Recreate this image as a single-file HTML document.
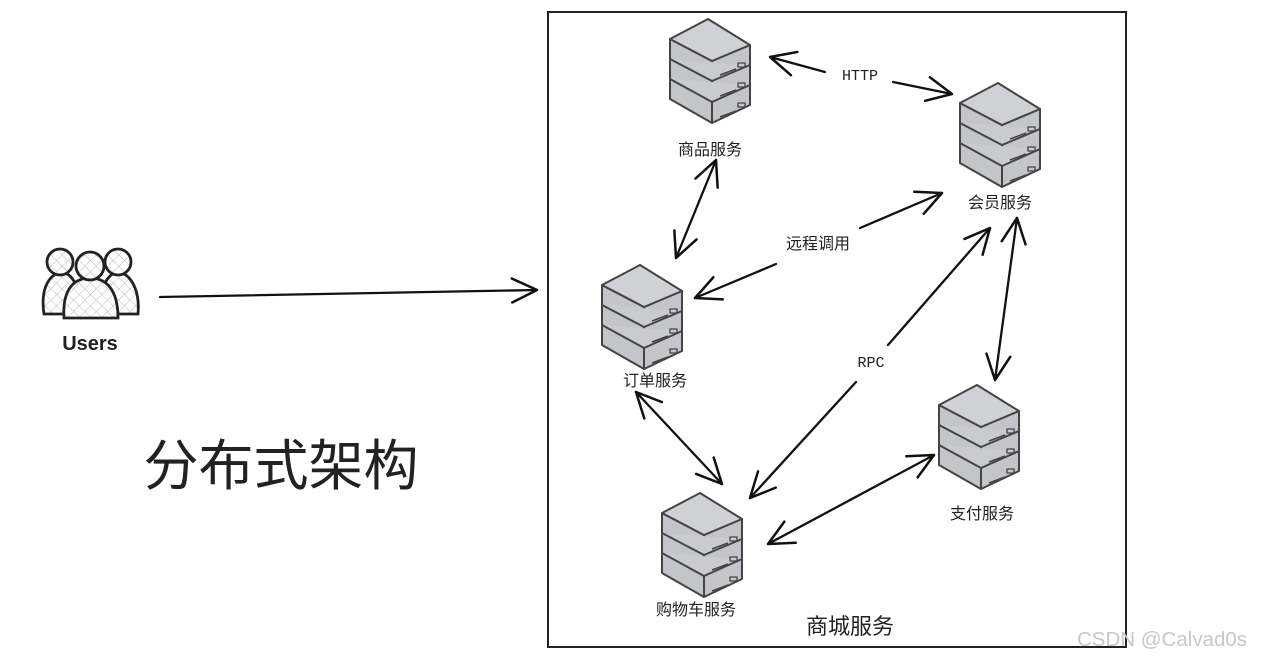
<!DOCTYPE html>
<html><head><meta charset="utf-8"><style>
html,body{margin:0;padding:0;background:#fff;}
svg{display:block;}
.cn{font-family:"Liberation Sans","Noto Sans CJK SC",sans-serif;fill:#222;}
</style></head><body>
<svg width="1261" height="663" viewBox="0 0 1261 663" xmlns="http://www.w3.org/2000/svg">
<defs>
<marker id="ahb" viewBox="0 0 30 30" refX="28" refY="15" markerWidth="30" markerHeight="30" markerUnits="userSpaceOnUse" orient="auto-start-reverse">
<path d="M3 3 L28 15 L3 27" fill="none" stroke="#111" stroke-width="2.5" stroke-linecap="round" stroke-linejoin="round"/>
</marker>
<g id="srv" stroke="#444" stroke-width="2" stroke-linejoin="round" fill="#c9cbd0">
<path d="M0 20 L0 80 L42 104 L80 86 L80 26 L42 42 Z" fill="#c3c5ca"/>
<path d="M0 20 L38 0 L80 26 L42 42 Z" fill="#cfd1d6"/>
<path d="M42 42 L42 104"/>
<path d="M0 40 L42 62 L80 46"/>
<path d="M0 60 L42 83 L80 66"/>
<path d="M50 56 L66 50 M50 77 L66 71 M50 98 L66 92" stroke-width="1.5"/>
<rect x="68" y="44" width="7" height="4" fill="none" stroke-width="1.3"/>
<rect x="68" y="64" width="7" height="4" fill="none" stroke-width="1.3"/>
<rect x="68" y="84" width="7" height="4" fill="none" stroke-width="1.3"/>
</g>
<pattern id="hatch" width="8" height="8" patternUnits="userSpaceOnUse" patternTransform="rotate(45)">
<rect width="8" height="8" fill="#fff"/>
<path d="M0 0 L0 8 M0 0 L8 0" stroke="#bbb" stroke-width="1"/>
</pattern>
</defs>

<rect x="548" y="12" width="578" height="635" fill="none" stroke="#222" stroke-width="2"/>

<use href="#srv" x="670" y="19"/>
<use href="#srv" x="960" y="83"/>
<use href="#srv" x="602" y="265"/>
<use href="#srv" x="939" y="385"/>
<use href="#srv" x="662" y="493"/>

<g class="cn" font-size="16" text-anchor="middle">
<text x="710" y="155">商品服务</text>
<text x="1000" y="208">会员服务</text>
<text x="655" y="386">订单服务</text>
<text x="982" y="519">支付服务</text>
<text x="696" y="615">购物车服务</text>
<text x="818" y="249">远程调用</text>
</g>
<text x="850" y="634" class="cn" font-size="22" text-anchor="middle">商城服务</text>
<text x="281" y="485" class="cn" font-size="55" text-anchor="middle">分布式架构</text>
<text x="1162" y="646" font-family="Liberation Sans,sans-serif" font-size="20.5" fill="#c8c8c8" text-anchor="middle">CSDN @Calvad0s</text>

<g font-family="Liberation Mono,monospace" font-size="15" fill="#222" text-anchor="middle">
<text x="860" y="80">HTTP</text>
<text x="871" y="367">RPC</text>
<text x="90" y="350" font-size="20" font-weight="bold" font-family="Liberation Sans,sans-serif">Users</text>
</g>

<g stroke="#111" stroke-width="2.3" fill="none" stroke-linecap="round">
<line x1="160" y1="297" x2="537" y2="290" marker-end="url(#ahb)"/>
<line x1="825" y1="72" x2="770" y2="57" marker-end="url(#ahb)"/>
<line x1="893" y1="82" x2="952" y2="94" marker-end="url(#ahb)"/>
<line x1="716" y1="160" x2="676" y2="258" marker-start="url(#ahb)" marker-end="url(#ahb)"/>
<line x1="776" y1="264" x2="695" y2="298" marker-end="url(#ahb)"/>
<line x1="860" y1="228" x2="942" y2="193" marker-end="url(#ahb)"/>
<line x1="990" y1="228" x2="888" y2="345" marker-start="url(#ahb)"/>
<line x1="856" y1="382" x2="750" y2="498" marker-end="url(#ahb)"/>
<line x1="1017" y1="218" x2="995" y2="380" marker-start="url(#ahb)" marker-end="url(#ahb)"/>
<line x1="636" y1="392" x2="722" y2="484" marker-start="url(#ahb)" marker-end="url(#ahb)"/>
<line x1="768" y1="544" x2="934" y2="455" marker-start="url(#ahb)" marker-end="url(#ahb)"/>
</g>

<g stroke="#222" stroke-width="2.8" fill="url(#hatch)">
<path d="M44 314 C40 287 50 274 62 272 C72 274 80 284 80 314 Z"/>
<circle cx="60" cy="262" r="13"/>
<path d="M100 314 C100 284 108 274 118 272 C132 274 140 292 138 314 Z"/>
<circle cx="118" cy="262" r="13"/>
<path d="M64 318 C62 287 76 278 90 278 C104 278 118 287 118 318 Z"/>
<circle cx="90" cy="266" r="14"/>
</g>
</svg>
</body></html>
